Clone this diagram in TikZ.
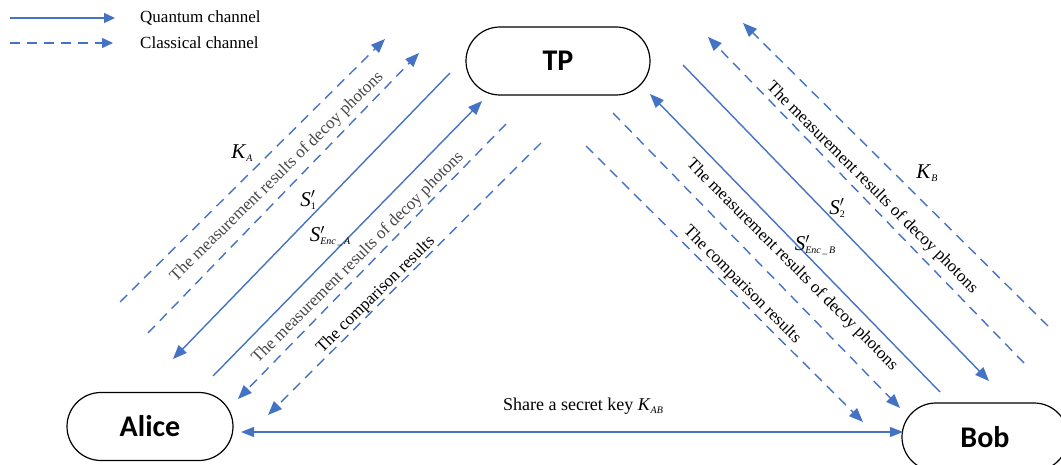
\documentclass[tikz,border=0pt]{standalone}
\usepackage{fontspec}
\setmainfont{Liberation Serif}
\newfontfamily\nodefont{Carlito}
\usetikzlibrary{arrows.meta,calc}
\definecolor{qblue}{RGB}{68,114,196}
\newcommand{\subsc}[1]{\raisebox{-3pt}{\fontsize{10}{11}\selectfont #1}}
\begin{document}
\begin{tikzpicture}[x=1pt,y=-1pt,
 party/.style={draw=black, line width=1.2pt, rounded corners=34pt, minimum width=166pt, minimum height=68pt, inner sep=0pt, font=\nodefont\bfseries\fontsize{30}{33}\selectfont},
 qline/.style={qblue, line width=1.4pt, -{Triangle[length=14pt,width=11pt]}},
 cline/.style={qline, dash pattern=on 10pt off 7pt},
 lbl/.style={inner sep=0pt, font=\fontsize{17}{20}\selectfont},
 glbl/.style={lbl, text=black!72},
 sym/.style={inner sep=0pt, font=\fontsize{21}{24}\selectfont},
]
\useasboundingbox (0,0) rectangle (1061,465);

% legend
\coordinate (q1) at (10,18); \coordinate (q2) at (115,18);
\coordinate (c1) at (10,43); \coordinate (c2) at (113,43);
\draw[qblue, line width=1.4pt, -{Triangle[length=11pt,width=10pt]}] (q1) -- (q2);
\draw[qblue, line width=1.4pt, dash pattern=on 10pt off 7pt, -{Triangle[length=11pt,width=10pt]}] (c1) -- (c2);
\node[lbl, anchor=west] (lq) at (140,18) {Quantum channel};
\node[lbl, anchor=west] (lc) at (140,43) {Classical channel};

% parties
\node[party, minimum width=184pt] (TP) at (558,61) {TP};
\node[party] (Alice) at (150,426.5) {Alice};
\node[party] (Bob) at (985,437) {Bob};

% left side coordinates
\coordinate (a1s) at (120,302); \coordinate (a1e) at (385,39);
\coordinate (a2s) at (148,333); \coordinate (a2e) at (419,53);
\coordinate (a3s) at (450,73);  \coordinate (a3e) at (173,359);
\coordinate (a4s) at (213,376); \coordinate (a4e) at (482,101);
\coordinate (a5s) at (506,124); \coordinate (a5e) at (238,399);
\coordinate (a6s) at (541,143); \coordinate (a6e) at (268,415);
\draw[cline] (a1s) -- (a1e);
\draw[cline] (a2s) -- (a2e);
\draw[qline] (a3s) -- (a3e);
\draw[qline] (a4s) -- (a4e);
\draw[cline] (a5s) -- (a5e);
\draw[cline] (a6s) -- (a6e);

% right side coordinates
\coordinate (b1s) at (1048,326); \coordinate (b1e) at (743,23);
\coordinate (b2s) at (1024,363); \coordinate (b2e) at (708,37);
\coordinate (b3s) at (683,65);   \coordinate (b3e) at (989,381);
\coordinate (b4s) at (940,392);  \coordinate (b4e) at (650,94);
\coordinate (b5s) at (613,113);  \coordinate (b5e) at (900,408);
\coordinate (b6s) at (586,146);  \coordinate (b6e) at (863,422);
\draw[cline] (b1s) -- (b1e);
\draw[cline] (b2s) -- (b2e);
\draw[qline] (b3s) -- (b3e);
\draw[qline] (b4s) -- (b4e);
\draw[cline] (b5s) -- (b5e);
\draw[cline] (b6s) -- (b6e);

% Alice -- Bob
\coordinate (ab1) at (241,432); \coordinate (ab2) at (903,432);
\draw[qblue, line width=1.4pt, {Triangle[length=13pt,width=10pt]}-{Triangle[length=13pt,width=10pt]}] (ab1) -- (ab2);
\node[lbl, font=\fontsize{18}{21}\selectfont] (share) at (583,406) {Share a secret key \textit{K}\subsc{\itshape AB}};

% left labels
\node[glbl, rotate=44.5] (lm1) at (277,177) {The measurement results of decoy photons};
\node[glbl, rotate=45] (lm2) at (358,258) {The measurement results of decoy photons};
\node[lbl, rotate=44.5] (lcmp) at (376,295) {The comparison results};
\node[sym] (KA) at (242,153) {\textit{K}\subsc{\itshape A}};
\node[sym] (S1) at (308,200) {\textit{S}\rlap{$'$}\subsc{1}};
\node[sym] (SEA) at (330,236) {\textit{S}\rlap{$'$}\subsc{\itshape Enc\,\_\,A}};

% right labels
\node[lbl, rotate=-45] (rm1) at (872,188) {The measurement results of decoy photons};
\node[lbl, rotate=-45] (rm2) at (792,265) {The measurement results of decoy photons};
\node[lbl, rotate=-45] (rcmp) at (742,285) {The comparison results};
\node[sym] (KB) at (927,173) {\textit{K}\subsc{\itshape B}};
\node[sym] (S2) at (837,208) {\textit{S}\rlap{$'$}\subsc{2}};
\node[sym] (SEB) at (815,245) {\textit{S}\rlap{$'$}\subsc{\itshape Enc\,\_\,B}};
\end{tikzpicture}
\end{document}
